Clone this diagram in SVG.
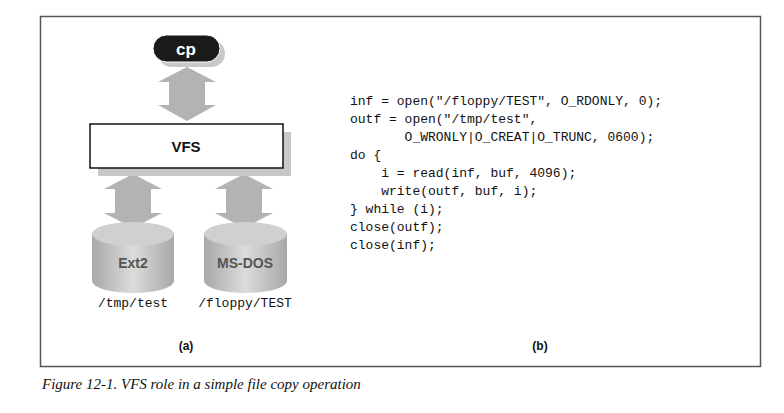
<svg xmlns="http://www.w3.org/2000/svg" width="784" height="413" viewBox="0 0 784 413">
<defs>
<style>
.sh{fill:#c8c8c8}
.arr{fill:#b3b3b3}
.lbl{font-family:"Liberation Sans Narrow","Liberation Sans",sans-serif;font-weight:bold}
.mono{font-family:"Liberation Mono",monospace;font-size:13px;fill:#111}
</style>
<linearGradient id="cyl" x1="0" x2="1" y1="0" y2="0">
<stop offset="0" stop-color="#a8a8a8"/><stop offset="0.5" stop-color="#dcdcdc"/><stop offset="1" stop-color="#a8a8a8"/>
</linearGradient>
</defs>
<rect width="784" height="413" fill="#fff"/>
<rect x="40.5" y="16.5" width="720" height="350" fill="none" stroke="#555" stroke-width="1.5"/>
<g id="connectors">
<polygon class="arr" points="187,67 216,82 205,82 205,105 216,105 187,121 158,105 169,105 169,82 158,82"/>
<polygon class="arr" points="133,174 162,189 151,189 151,213 162,213 133,228 104,213 115,213 115,189 104,189"/>
<polygon class="arr" points="244,174 273,189 262,189 262,213 273,213 244,228 215,213 226,213 226,189 215,189"/>
</g>
<g id="cp">
<rect x="158" y="40" width="67" height="27" rx="13.5" class="sh"/>
<rect x="153" y="35" width="67" height="27" rx="13.5" fill="#1a1a1a" stroke="#fff" stroke-width="1"/>
<text x="186" y="55" text-anchor="middle" class="lbl" font-size="17" fill="#fff">cp</text>
</g>
<g id="vfs">
<rect x="98" y="132" width="193" height="44" class="sh"/>
<rect x="90" y="124" width="193" height="44" fill="#fff" stroke="#111" stroke-width="1.5"/>
<text x="186" y="152" text-anchor="middle" class="lbl" font-size="15" fill="#111">VFS</text>
</g>
<g id="ext2">
<path d="M92,234 V281 A41,12 0 0 0 174,281 V234 Z" fill="url(#cyl)"/>
<ellipse cx="133" cy="234" rx="41" ry="12" fill="#d0d0d0"/>
<text x="133" y="268" text-anchor="middle" class="lbl" font-size="14" fill="#555">Ext2</text>
<text x="133" y="307" text-anchor="middle" class="mono">/tmp/test</text>
</g>
<g id="msdos">
<path d="M204,234 V281 A41.5,12 0 0 0 287,281 V234 Z" fill="url(#cyl)"/>
<ellipse cx="245.5" cy="234" rx="41.5" ry="12" fill="#d0d0d0"/>
<text x="245" y="268" text-anchor="middle" class="lbl" font-size="14" fill="#555">MS-DOS</text>
<text x="245" y="307" text-anchor="middle" class="mono">/floppy/TEST</text>
</g>
<g id="code" class="mono">
<text x="350" y="105" xml:space="preserve">inf = open("/floppy/TEST", O_RDONLY, 0);</text>
<text x="350" y="123" xml:space="preserve">outf = open("/tmp/test",</text>
<text x="350" y="141" xml:space="preserve">       O_WRONLY|O_CREAT|O_TRUNC, 0600);</text>
<text x="350" y="159" xml:space="preserve">do {</text>
<text x="350" y="177" xml:space="preserve">    i = read(inf, buf, 4096);</text>
<text x="350" y="195" xml:space="preserve">    write(outf, buf, i);</text>
<text x="350" y="213" xml:space="preserve">} while (i);</text>
<text x="350" y="231" xml:space="preserve">close(outf);</text>
<text x="350" y="249" xml:space="preserve">close(inf);</text>
</g>
<text x="186" y="350" text-anchor="middle" class="lbl" font-size="12" fill="#111">(a)</text>
<text x="540" y="350" text-anchor="middle" class="lbl" font-size="12" fill="#111">(b)</text>
<text x="42" y="389" font-family="Liberation Serif,serif" font-style="italic" font-size="15" fill="#111">Figure 12-1. VFS role in a simple file copy operation</text>
</svg>
